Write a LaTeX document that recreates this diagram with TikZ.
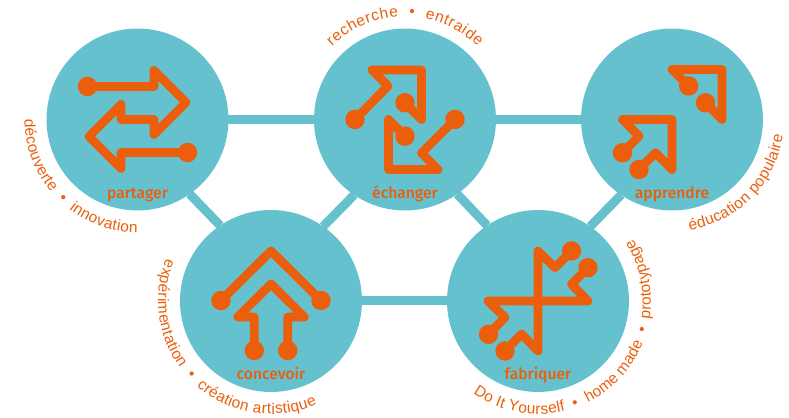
\documentclass[tikz,border=0pt]{standalone}
\usepackage{fontspec}
\setmainfont{Liberation Sans}
\newfontfamily\hubfont{Fira Sans Medium}
\usetikzlibrary{calc, backgrounds, decorations.text}
\definecolor{hubblue}{HTML}{64C1CD}
\definecolor{wireorange}{HTML}{EB5E0C}
\newcommand{\arcfont}{\fontsize{8.8}{10}\selectfont}
\tikzset{
  hub/.style={circle, fill=hubblue, minimum size=3.64cm, inner sep=0pt, outer sep=0pt},
  hubname/.style={font=\hubfont\fontsize{8.9}{10}\selectfont, text=wireorange, inner sep=0pt, anchor=base},
  link/.style={draw=hubblue, line width=0.18cm},
  wire/.style={draw=wireorange, line width=0.175cm, line join=round, line cap=round},
  pin/.style={fill=wireorange},
  arctext/.style={postaction={decorate}, decoration={text along path, text align={fit to path}, text={|\arcfont\color{wireorange}|#1}}}
}

\begin{document}
\begin{tikzpicture}[x=0.02cm, y=0.02cm]
  \useasboundingbox (0,0) rectangle (789,418);

  % Five hubs
  \node[hub] (partager) at (137.5,298.5) {};
  \node[hub] (echanger) at (405,298.5) {};
  \node[hub] (apprendre) at (672,298.5) {};
  \node[hub] (concevoir) at (271,117) {};
  \node[hub] (fabriquer) at (538,117) {};

  % Links behind the hubs
  \begin{scope}[on background layer]
    \foreach \a/\b in {partager/echanger, echanger/apprendre, concevoir/fabriquer} {
      \draw[link] (\a) -- (\b);
    }
    \foreach \a/\b in {partager/concevoir, echanger/fabriquer} {
      \draw[link] (\a.-55.76) -- (\b.124.24);
    }
    \foreach \a/\b in {concevoir/echanger, fabriquer/apprendre} {
      \draw[link] (\a.55.76) -- (\b.-124.24);
    }
  \end{scope}

  % Hub names
  \node[hubname] (partagername) at (137.5,219.5) {partager};
  \node[hubname] (echangername) at (405,219.5) {échanger};
  \node[hubname] (apprendrename) at (672,219.5) {apprendre};
  \node[hubname] (concevoirname) at (271,38) {concevoir};
  \node[hubname] (fabriquername) at (538,38) {fabriquer};

  % Partager icon
  \begin{scope}[shift={(partager.center)}]
    \draw[wire] (-50,33) -- (16.5,33) -- (16.5,49) -- (48.5,17) -- (16.5,-15) -- (16.5,0) -- (-16.5,0)
      -- (-16.5,15) -- (-48.5,-17) -- (-16.5,-49) -- (-16.5,-33) -- (50,-33);
    \foreach \x/\y in {-50/33, 50/-33} {
      \fill[pin] (\x,\y) circle (9.7);
    }
  \end{scope}

  % Echanger icon
  \begin{scope}[shift={(echanger.center)}]
    \draw[wire] (-50,0) -- (-17,33.5) -- (-33,49.5) -- (16.5,49.5) -- (16.5,0) -- (0,16.7);
    \draw[wire] (50,0) -- (16.5,-33.5) -- (33,-50) -- (-16.5,-50) -- (-16.5,0) -- (0,-16.7);
    \foreach \x/\y in {-50/0, 0/16.7, 50/0, 0/-16.7} {
      \fill[pin] (\x,\y) circle (9.7);
    }
  \end{scope}

  % Apprendre icon
  \begin{scope}[shift={(apprendre.center)}]
    \draw[wire] (16.7,33.5) -- (0,50) -- (50,50) -- (50,0) -- (33.5,16.7);
    \draw[wire] (-49.5,-33.3) -- (-33,-16.7) -- (-49.5,0) -- (0,0) -- (0,-50) -- (-16.5,-33.3) -- (-33,-50);
    \foreach \x/\y in {16.7/33.5, 33.5/16.7, -49.5/-33.3, -33/-50} {
      \fill[pin] (\x,\y) circle (9.7);
    }
  \end{scope}

  % Concevoir icon
  \begin{scope}[shift={(concevoir.center)}]
    \draw[wire] (-50,0.5) -- (0,50) -- (50,0.5);
    \draw[wire] (-16.7,-49.5) -- (-16.7,-16) -- (-33.3,-16) -- (0,17) -- (33.3,-16) -- (16.7,-16) -- (16.7,-49.5);
    \foreach \x/\y in {-50/0.5, 50/0.5, -16.7/-49.5, 16.7/-49.5} {
      \fill[pin] (\x,\y) circle (9.7);
    }
  \end{scope}

  % Fabriquer icon
  \begin{scope}[shift={(fabriquer.center)}]
    \draw[wire] (33.5,50) -- (17,33.3) -- (0,50) -- (0,-50) -- (-16.5,-33) -- (-33,-50);
    \draw[wire] (50,33.3) -- (33.5,16.7) -- (50,0) -- (-50,0) -- (-33,-16.5) -- (-49.5,-33.3);
    \foreach \x/\y in {33.5/50, -33/-50, 50/33.3, -49.5/-33.3} {
      \fill[pin] (\x,\y) circle (9.7);
    }
  \end{scope}

  % Words round the hubs
  \path[arctext={recherche {\ }• {\ }entraide}] ($(echanger)+(135:103)$) arc[start angle=135, end angle=45, radius=103];
  \path[arctext={découverte {\ }• {\ }innovation}] ($(partager)+(180:113)$) arc[start angle=180, end angle=270, radius=113];
  \path[arctext={éducation populaire}] ($(apprendre)+(-81:112)$) arc[start angle=-81, end angle=-8, radius=112];
  \path[arctext={expérimentation {\ }• {\ }création artistique}] ($(concevoir)+(158:113)$) arc[start angle=158, end angle=294, radius=113];
  \path[arctext={Do It Yourself {\ }• {\ }home made {\ }• {\ }prototypage}] ($(fabriquer)+(235:113)$) arc[start angle=235, end angle=393, radius=113];
\end{tikzpicture}
\end{document}
